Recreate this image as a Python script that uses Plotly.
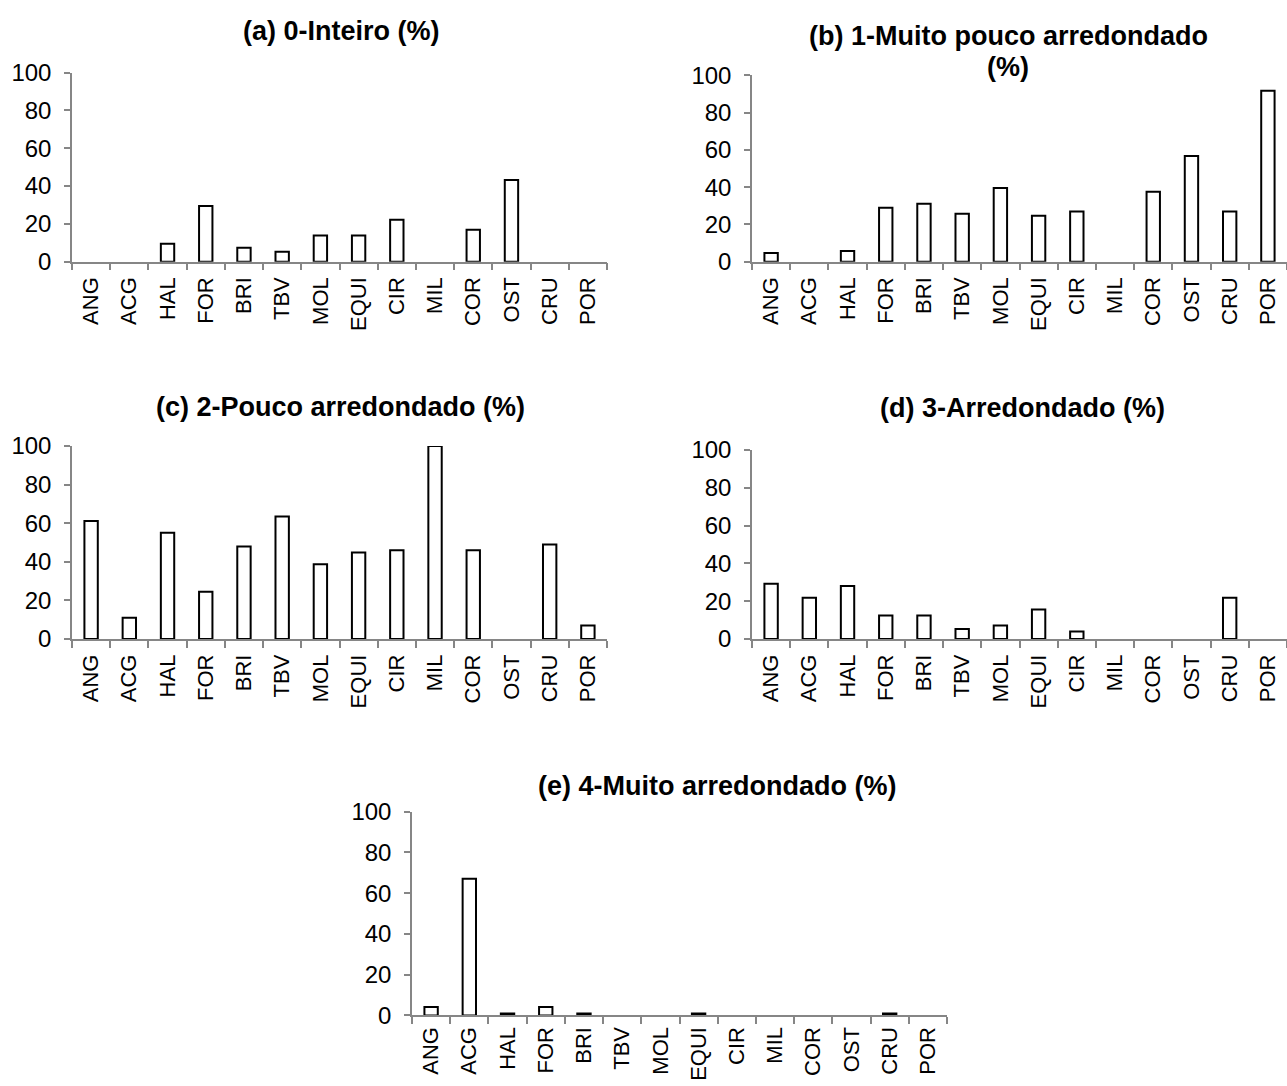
import plotly.graph_objects as go

categories = ["ANG", "ACG", "HAL", "FOR", "BRI", "TBV", "MOL", "EQUI", "CIR", "MIL", "COR", "OST", "CRU", "POR"]

inteiro = [0, 0, 9.5, 29.5, 7.4, 5.3, 13.8, 13.8, 22.2, 0, 16.9, 43.2, 0, 0]
muito_pouco_arred = [4.6, 0, 5.7, 29.0, 31.1, 25.8, 39.5, 24.7, 26.9, 0, 37.5, 56.8, 26.9, 91.8]
pouco_arred = [61.2, 11.1, 55.1, 24.5, 48.0, 63.5, 38.8, 44.9, 46.0, 100, 46.0, 0, 49.0, 7.0]
arredondado = [29.2, 21.9, 28.0, 12.4, 12.4, 5.3, 7.2, 15.6, 4.0, 0, 0, 0, 21.9, 0]
muito_arred = [4.1, 67.1, 1.0, 4.1, 1.0, 0, 0, 1.0, 0, 0, 0, 0, 1.0, 0]

title_lines = [
    ["(a) 0-Inteiro (%)"],
    ["(b) 1-Muito pouco arredondado", "(%)"],
    ["(c) 2-Pouco arredondado (%)"],
    ["(d) 3-Arredondado (%)"],
    ["(e) 4-Muito arredondado (%)"],
]
series = [inteiro, muito_pouco_arred, pouco_arred, arredondado, muito_arred]

W, H = 1287, 1086
# pixel boxes (x0, x1, ytop, ybottom) in page coordinates
boxes = [
    (72, 607, 60, 254),
    (752, 1287, 63, 254),
    (72, 607, 443, 641),
    (752, 1287, 447, 641),
    (412, 947, 818, 1027),
]
# title line centres (x, y) per panel
title_pos = [
    [(341, 17)],
    [(1008, 23), (1008, 54)],
    [(340, 403)],
    [(1022, 404)],
    [(718, 792)],
]
xlab_standoff = [5, 5, 5, 5, 1]

FONT = "Liberation Sans, Arial, sans-serif"
AXC = "#868686"

fig = go.Figure()
layout = {}
annotations = []
for i, (vals, box) in enumerate(zip(series, boxes)):
    n = "" if i == 0 else str(i + 1)
    fig.add_trace(go.Bar(
        x=categories, y=vals,
        xaxis="x" + n, yaxis="y" + n,
        width=0.35,
        marker=dict(color="white",
                    line=dict(color="black", width=[2 if v > 0 else 0 for v in vals])),
        showlegend=False,
    ))
    x0, x1, yt, yb = box
    layout["xaxis" + n] = dict(
        domain=[x0 / W, x1 / W], anchor="y" + n,
        type="category", categoryorder="array", categoryarray=categories,
        range=[-0.5, 13.5],
        showline=True, linecolor=AXC, linewidth=1.5,
        ticks="outside", tickson="boundaries", ticklen=7, tickcolor=AXC, tickwidth=1.5,
        tickangle=-90, tickfont=dict(family=FONT, size=22, color="black"),
        ticklabelstandoff=xlab_standoff[i],
        showgrid=False, zeroline=False, fixedrange=True,
    )
    layout["yaxis" + n] = dict(
        domain=[1 - yb / H, 1 - yt / H], anchor="x" + n,
        range=[0, 100], tickvals=[0, 20, 40, 60, 80, 100],
        showline=True, linecolor=AXC, linewidth=1.5,
        ticks="outside", ticklen=6, tickcolor=AXC, tickwidth=1.5,
        tickfont=dict(family=FONT, size=24, color="black"),
        ticklabelstandoff=8,
        showgrid=False, zeroline=False, fixedrange=True,
    )
    for line, (tx, ty) in zip(title_lines[i], title_pos[i]):
        annotations.append(dict(
            text="<b>" + line + "</b>",
            x=tx / W, y=1 - ty / H, xref="paper", yref="paper",
            xanchor="center", yanchor="middle", showarrow=False,
            font=dict(family=FONT, size=27, color="black"),
        ))

fig.update_layout(
    width=W, height=H,
    margin=dict(l=0, r=0, t=0, b=0),
    paper_bgcolor="white", plot_bgcolor="white",
    annotations=annotations,
    **layout,
)

fig.write_html("out.html")
